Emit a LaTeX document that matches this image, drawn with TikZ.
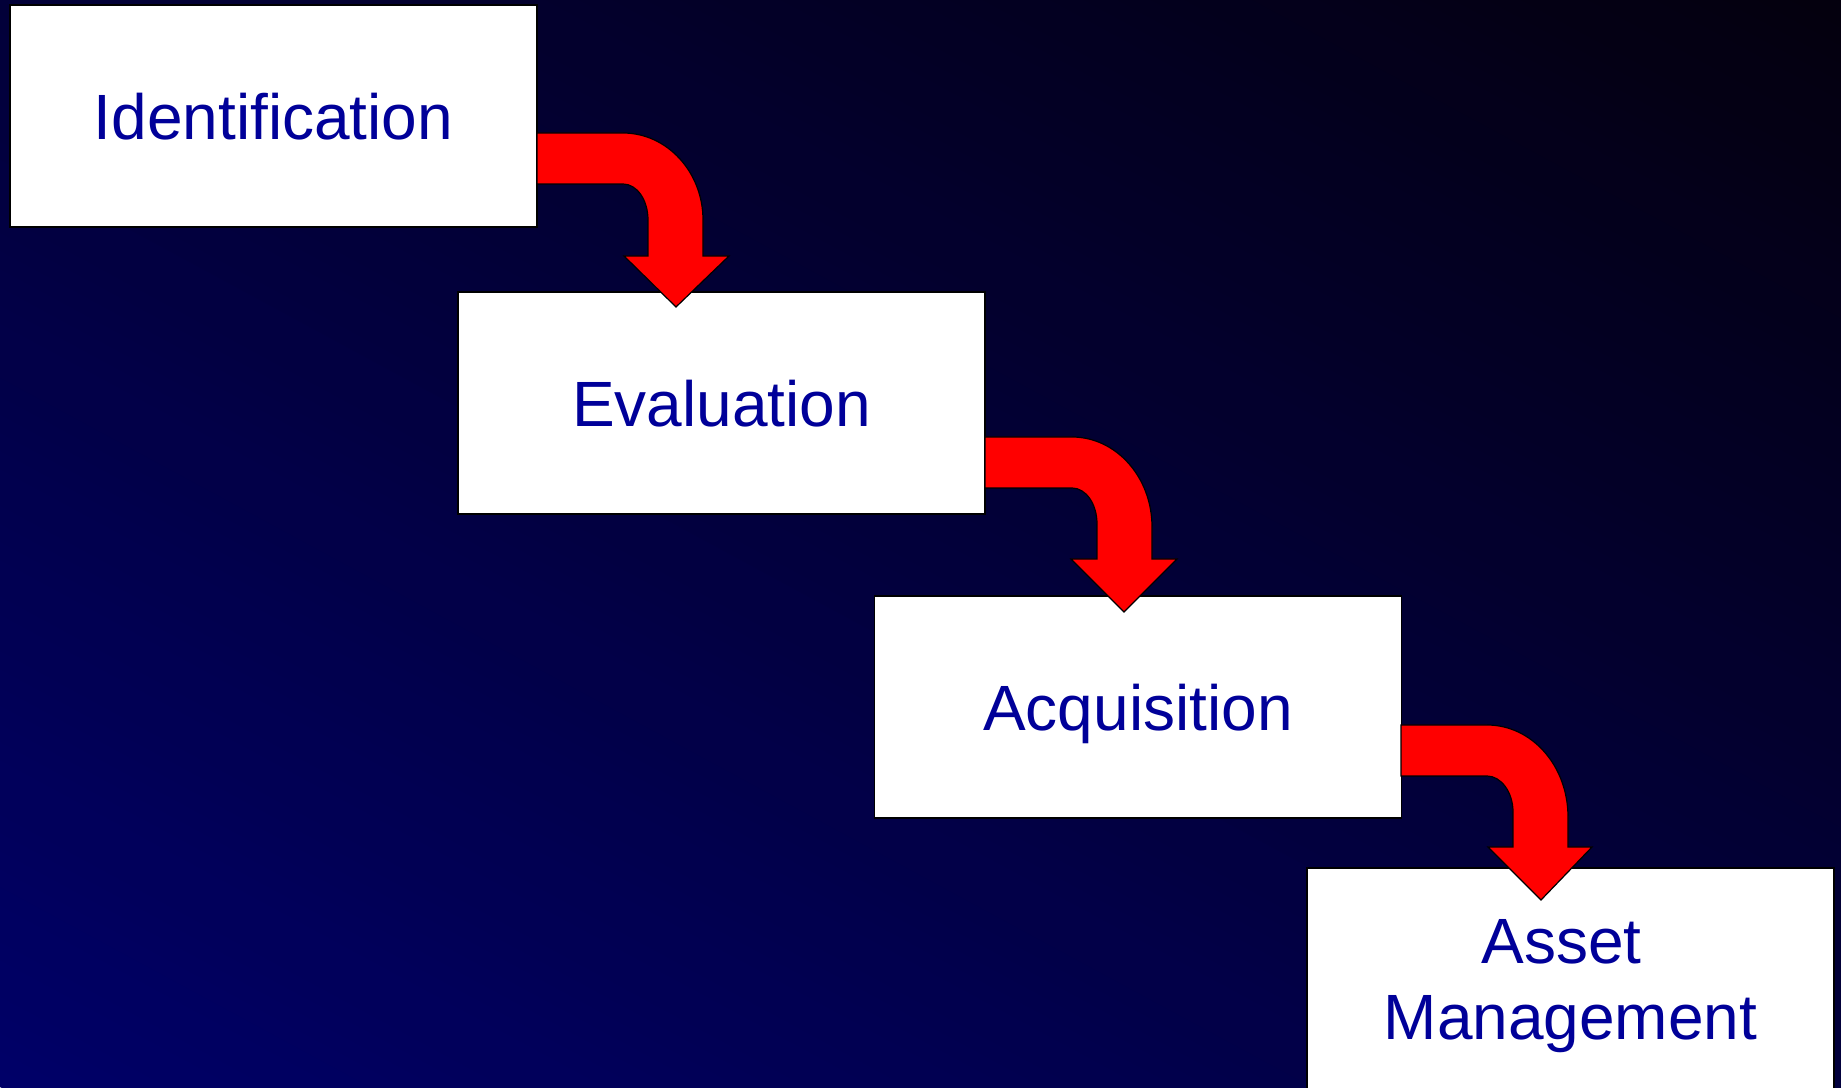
\documentclass[tikz,border=0pt]{standalone}
\usepackage{fontspec}
\setmainfont{Liberation Sans}
\definecolor{navyC}{RGB}{0,0,104}
\definecolor{darkC}{RGB}{4,0,14}
\definecolor{txtC}{RGB}{0,0,153}
\definecolor{arrC}{RGB}{255,0,0}
\tikzset{
  stagebox/.style={rectangle, draw=black, line width=1.2pt, fill=white,
    minimum width=527pt, minimum height=222pt, inner sep=0pt, text depth=0pt,
    text=txtC, align=center, font=\fontsize{64}{76}\selectfont},
  bentarrow/.style={fill=arrC, draw=black, line width=1.2pt, line join=miter}
}
\begin{document}
\begin{tikzpicture}[x=1pt,y=1pt]
\useasboundingbox (0,0) rectangle (1841,1087);
\clip (0,0) rectangle (1841,1087);
% background gradient
\begin{scope}[rotate=61.6]
\foreach \i in {0,...,119}{
  \pgfmathtruncatemacro\p{max(0,100-\i*100/114)}
  \fill[navyC!\p!darkC] (\i*16,-2500) rectangle (\i*16+17,2500);
}
\end{scope}
% boxes
\node[stagebox] (b1) at (273.5,971) {Identification};
\node[stagebox] (b2) at (721.5,684) {Evaluation};
\node[stagebox] (b3) at (1138,380) {Acquisition};
\node[stagebox] (b4) at (1570.5,108) {Asset\kern0.28em\\Management};
% bent arrows
\draw[bentarrow] (537,954) -- (623,954) .. controls (667,954) and (703,915) .. (703,867)
  -- (703,831) -- (729,831) -- (676,780) -- (624,831) -- (648,831) -- (648,867)
  .. controls (648,887) and (637,903) .. (623,903) -- (537,903) -- cycle;
\draw[bentarrow] (985,650) -- (1072,650) .. controls (1116,650) and (1152,610) .. (1152,560)
  -- (1152,528) -- (1177,528) -- (1124,475) -- (1071,528) -- (1097,528) -- (1097,563)
  .. controls (1097,583) and (1086,599) .. (1072,599) -- (985,599) -- cycle;
\draw[bentarrow] (1401,362) -- (1487,362) .. controls (1532,362) and (1568,321) .. (1568,270)
  -- (1568,240) -- (1592,240) -- (1541,187) -- (1488,240) -- (1513,240) -- (1513,275)
  .. controls (1513,295) and (1501,311) .. (1487,311) -- (1401,311) -- cycle;
\end{tikzpicture}
\end{document}
